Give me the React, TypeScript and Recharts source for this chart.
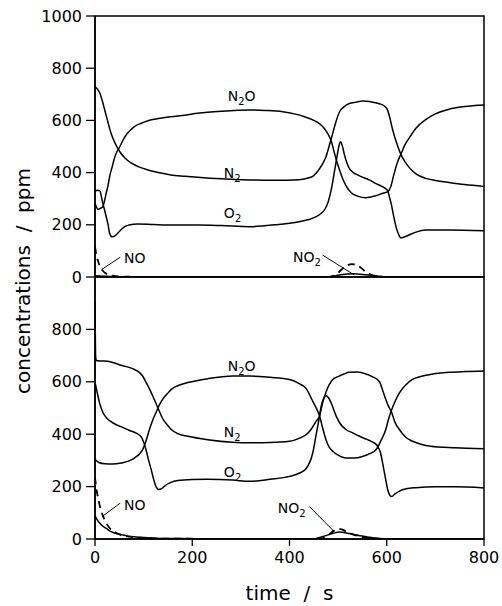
import React from 'react';
import { LineChart, Line, XAxis, YAxis, ReferenceArea, ReferenceDot, ReferenceLine } from 'recharts';

type P = [number, number];

// ---------- top panel series: [time s, ppm] ----------
const TOP_N2: P[] = [
  [0, 729], [5, 720], [10, 704], [15, 675], [20, 640], [26, 598], [33, 551], [42, 510], [51, 480], [62, 455],
  [75, 436], [90, 422], [109, 410], [130, 400], [156, 391], [185, 386], [211, 382], [260, 376], [318, 372],
  [370, 371], [420, 373], [440, 380], [448, 386], [460, 410], [470, 440], [475, 461], [482, 505], [489, 551],
  [496, 598], [503, 633], [512, 652], [523, 665], [537, 670], [550, 674], [565, 672], [585, 664], [595, 655],
  [602, 638], [607, 605], [612, 565], [620, 515], [629, 470], [637, 443], [646, 420], [660, 395], [680, 378],
  [700, 370], [728, 362], [760, 354], [800, 347],
];
const TOP_N2O: P[] = [
  [0, 282], [3, 268], [6, 259], [10, 262], [16, 269], [20, 295], [23, 321], [27, 352], [30, 384], [35, 420],
  [40, 455], [45, 480], [51, 499], [57, 522], [64, 544], [72, 561], [81, 576], [95, 589], [109, 599], [130, 607],
  [156, 614], [185, 620], [211, 627], [260, 635], [318, 640], [350, 638], [386, 633], [410, 625], [434, 612],
  [450, 600], [462, 587], [472, 568], [480, 545], [486, 520], [492, 478], [498, 438], [503, 410], [509, 378],
  [516, 350], [527, 323], [540, 310], [557, 304], [575, 310], [590, 320], [602, 327], [608, 345], [615, 395],
  [622, 440], [629, 470], [637, 505], [646, 532], [660, 570], [680, 603], [700, 625], [728, 643], [760, 653],
  [800, 659],
];
const TOP_O2: P[] = [
  [0, 327], [5, 332], [10, 330], [13, 310], [16, 282], [20, 255], [23, 231], [27, 200], [30, 168], [35, 154],
  [41, 158], [47, 168], [54, 182], [61, 193], [70, 199], [88, 203], [120, 201], [156, 199], [211, 199],
  [260, 197], [318, 193], [370, 200], [420, 212], [440, 220], [455, 231], [466, 245], [472, 257], [480, 290],
  [487, 345], [493, 410], [498, 465], [502, 505], [505, 518], [509, 500], [513, 468], [518, 438], [523, 416],
  [530, 402], [540, 391], [552, 381], [564, 372], [578, 358], [591, 346], [602, 331], [605, 310], [609, 282],
  [614, 235], [619, 193], [624, 165], [629, 150], [636, 153], [646, 161], [660, 172], [680, 180], [728, 180],
  [800, 177],
];
const TOP_NO: P[] = [
  [0, 116], [3, 84], [6, 62], [9, 46], [12, 34], [16, 24], [21, 15], [27, 9], [35, 5], [47, 2], [70, 1],
  [100, 0], [480, 0], [490, 4], [498, 12], [505, 25], [516, 42], [528, 49], [538, 46], [548, 34], [555, 22],
  [562, 13], [570, 7], [580, 3], [595, 0], [800, 0],
];
const TOP_NO2: P[] = [
  [0, 5], [20, 3], [50, 1], [100, 0], [480, 0], [495, 5], [510, 10], [530, 12], [550, 10], [570, 6],
  [590, 2], [610, 0], [800, 0],
];

// ---------- bottom panel series ----------
const BOT_N2: P[] = [
  [0, 905], [1.5, 690], [4, 680], [20, 679], [40, 672], [54, 663], [70, 655], [81, 647], [90, 638], [98, 622],
  [105, 598], [112, 573], [119, 545], [126, 515], [133, 485], [139, 460], [148, 437], [157, 418], [170, 402],
  [191, 392], [232, 379], [283, 369], [318, 367], [360, 368], [400, 373], [421, 385], [434, 398], [445, 420],
  [455, 450], [462, 470], [468, 520], [475, 560], [482, 590], [489, 609], [500, 620], [512, 630], [523, 636],
  [540, 637], [557, 630], [570, 620], [585, 600], [592, 565], [598, 533], [604, 505], [609, 488], [617, 445],
  [626, 418], [638, 390], [653, 373], [670, 362], [690, 354], [740, 348], [800, 344],
];
const BOT_N2O: P[] = [
  [0, 303], [8, 292], [20, 287], [37, 286], [54, 290], [70, 298], [81, 309], [90, 322], [98, 341], [105, 375],
  [112, 418], [119, 455], [126, 485], [133, 514], [139, 533], [148, 553], [157, 571], [170, 585], [191, 597],
  [232, 612], [283, 622], [318, 622], [360, 617], [400, 609], [421, 592], [434, 575], [448, 525], [455, 500],
  [462, 469], [468, 425], [475, 379], [482, 350], [489, 335], [500, 320], [516, 309], [533, 309], [550, 315],
  [564, 325], [578, 341], [588, 375], [598, 418], [604, 460], [609, 488], [617, 525], [626, 558], [640, 590],
  [653, 609], [670, 620], [690, 628], [728, 636], [760, 639], [800, 641],
];
const BOT_O2: P[] = [
  [0, 600], [5, 555], [10, 515], [16, 484], [24, 462], [33, 448], [45, 435], [58, 425], [70, 415], [85, 404],
  [95, 390], [100, 370], [105, 340], [110, 302], [116, 262], [121, 225], [126, 198], [131, 189], [137, 192],
  [145, 205], [155, 215], [170, 223], [200, 227], [232, 228], [283, 225], [318, 220], [360, 228], [400, 239],
  [421, 252], [434, 268], [448, 330], [455, 400], [460, 450], [465, 505], [470, 535], [475, 547], [480, 540],
  [486, 518], [496, 469], [505, 438], [516, 418], [530, 405], [544, 392], [558, 381], [571, 370], [581, 355],
  [587, 330], [592, 285], [597, 235], [602, 188], [607, 165], [610, 162], [617, 172], [626, 183], [640, 192],
  [660, 196], [700, 199], [740, 199], [800, 195],
];
const BOT_NO: P[] = [
  [0, 235], [3, 190], [6, 160], [11, 118], [16, 90], [20, 73], [26, 52], [33, 36], [43, 24], [54, 15], [70, 9],
  [88, 5], [130, 2], [200, 1], [300, 0], [460, 0], [470, 4], [480, 15], [490, 30], [497, 36], [505, 38],
  [513, 32], [520, 25], [530, 18], [540, 12], [550, 7], [560, 4], [580, 1], [600, 0], [800, 0],
];
const BOT_NO2: P[] = [
  [0, 88], [5, 72], [10, 60], [13, 54], [20, 44], [25, 38], [33, 28], [42, 22], [50, 18], [60, 14], [68, 11],
  [85, 8], [100, 6], [123, 3], [160, 2], [200, 1], [300, 0], [450, 0], [462, 6], [475, 13], [490, 22],
  [503, 27], [515, 24], [530, 18], [545, 12], [560, 8], [575, 4], [595, 1], [620, 0], [800, 0],
];

// ---------- axes ----------
const X_TICKS = [0, 200, 400, 600, 800];
const TOP_Y_TICKS = [0, 200, 400, 600, 800, 1000];
const BOT_Y_TICKS = [0, 200, 400, 600, 800];

// ---------- curve labels: [text, time at text start, ppm at baseline] ----------
type Lab = [string, number, number];
const TOP_LABELS: Lab[] = [
  ['N2O', 273, 674], ['N2', 265, 381], ['O2', 265, 226], ['NO', 59.5, 54], ['NO2', 407, 59],
];
const BOT_LABELS: Lab[] = [
  ['N2O', 273, 640], ['N2', 265, 391], ['O2', 265, 238], ['NO', 59.5, 111], ['NO2', 376, 100],
];
// leader lines: [t1, v1, t2, v2]
const TOP_LEADERS: [number, number, number, number][] = [
  [52, 76, 14, 29], [468, 84, 533, 8],
];
const BOT_LEADERS: [number, number, number, number][] = [
  [52, 137, 14, 85], [441, 124, 492, 28],
];

const toPts = (a: P[]) => a.map(([t, v]) => ({ t, v }));
const FONT = 'DejaVu Sans';

function ChemLabel(props: any) {
  const vb = props.viewBox || {};
  const x = (vb.x ?? 0) + (vb.width ?? 0) / 2;
  const y = (vb.y ?? 0) + (vb.height ?? 0) / 2;
  const text: string = props.text;
  const parts: React.ReactNode[] = [];
  let prevSub = false;
  text.split('').forEach((ch, i) => {
    const sub = /[0-9]/.test(ch);
    let dy = 0;
    if (sub && !prevSub) dy = 4;
    if (!sub && prevSub) dy = -4;
    parts.push(
      <tspan key={i} dy={dy} fontSize={sub ? 10 : 14}>{ch}</tspan>
    );
    prevSub = sub;
  });
  return (
    <text x={x} y={y} fontFamily={FONT} fontSize={14} fill="#000" textAnchor="start">
      {parts}
    </text>
  );
}

function YLabel() {
  return (
    <text
      x={30}
      y={281}
      transform="rotate(-90, 30, 281)"
      textAnchor="middle"
      fontFamily={FONT}
      fontSize={20}
      fill="#000"
    >
      {'concentrations\u00a0\u00a0/\u00a0\u00a0ppm'}
    </text>
  );
}

const lineCommon = {
  type: 'monotone' as const,
  dataKey: 'v',
  dot: false,
  activeDot: false,
  stroke: '#000',
  isAnimationActive: false,
};

function renderSeries(n2: P[], n2o: P[], o2: P[], no: P[], no2: P[], prefix: string) {
  return [
    <Line key={prefix + 'n2'} {...lineCommon} data={toPts(n2)} strokeWidth={1.5} />,
    <Line key={prefix + 'n2o'} {...lineCommon} data={toPts(n2o)} strokeWidth={1.5} />,
    <Line key={prefix + 'o2'} {...lineCommon} data={toPts(o2)} strokeWidth={1.5} />,
    <Line key={prefix + 'no2'} {...lineCommon} data={toPts(no2)} strokeWidth={1.5} />,
    <Line key={prefix + 'no'} {...lineCommon} data={toPts(no)} strokeWidth={1.8} strokeDasharray="7 5" />,
  ];
}

function renderLabels(labels: Lab[], leaders: [number, number, number, number][], prefix: string) {
  const out: React.ReactNode[] = [];
  labels.forEach(([txt, t, v], i) => {
    out.push(
      <ReferenceDot
        key={prefix + 'lab' + i}
        x={t}
        y={v}
        r={0}
        fill="none"
        stroke="none"
        label={(p: any) => <ChemLabel {...p} text={txt} />}
      />
    );
  });
  leaders.forEach(([t1, v1, t2, v2], i) => {
    out.push(
      <ReferenceLine
        key={prefix + 'ld' + i}
        segment={[{ x: t1, y: v1 }, { x: t2, y: v2 }]}
        stroke="#000"
        strokeWidth={1}
      />
    );
  });
  return out;
}

const tickStyle = { fontFamily: FONT, fontSize: 16, fill: '#000' };

export default function App() {
  return (
    <div style={{ position: 'absolute', left: 0, top: 0, width: 502, height: 606, background: '#fff' }}>
      <div style={{ position: 'absolute', left: 0, top: 0 }}>
        <LineChart width={502} height={606} margin={{ top: 277, right: 18, bottom: 0, left: 0 }}>
          <XAxis
            dataKey="t"
            type="number"
            domain={[0, 800]}
            ticks={X_TICKS}
            interval={0}
            allowDataOverflow
            height={67}
            tickSize={7}
            tickMargin={6}
            tick={tickStyle}
            axisLine={{ stroke: '#000', strokeWidth: 1.5 }}
            tickLine={{ stroke: '#000', strokeWidth: 1.3 }}
            label={{
              value: 'time\u00a0\u00a0/\u00a0\u00a0s',
              position: 'insideBottom',
              offset: 6,
              fill: '#000',
              fontSize: 20,
              fontFamily: FONT,
            }}
          />
          <YAxis
            type="number"
            domain={[0, 1000]}
            ticks={BOT_Y_TICKS}
            interval={0}
            allowDataOverflow
            width={95}
            tickSize={9}
            tickMargin={4}
            tick={tickStyle}
            axisLine={{ stroke: '#000', strokeWidth: 1.5 }}
            tickLine={{ stroke: '#000', strokeWidth: 1.3 }}
            label={{ content: () => <YLabel /> }}
          />
          <ReferenceArea x1={0} x2={800} y1={0} y2={1000} fill="none" stroke="#000" strokeWidth={1.5} />
          {renderSeries(BOT_N2, BOT_N2O, BOT_O2, BOT_NO, BOT_NO2, 'b')}
          {renderLabels(BOT_LABELS, BOT_LEADERS, 'b')}
        </LineChart>
      </div>
      <div style={{ position: 'absolute', left: 0, top: 0 }}>
        <LineChart width={502} height={290} margin={{ top: 16, right: 18, bottom: 13, left: 0 }}>
          <XAxis dataKey="t" type="number" domain={[0, 800]} allowDataOverflow hide />
          <YAxis
            type="number"
            domain={[0, 1000]}
            ticks={TOP_Y_TICKS}
            interval={0}
            allowDataOverflow
            width={95}
            tickSize={9}
            tickMargin={4}
            tick={tickStyle}
            axisLine={{ stroke: '#000', strokeWidth: 1.5 }}
            tickLine={{ stroke: '#000', strokeWidth: 1.3 }}
          />
          <ReferenceArea x1={0} x2={800} y1={0} y2={1000} fill="none" stroke="#000" strokeWidth={1.5} />
          {renderSeries(TOP_N2, TOP_N2O, TOP_O2, TOP_NO, TOP_NO2, 't')}
          {renderLabels(TOP_LABELS, TOP_LEADERS, 't')}
        </LineChart>
      </div>
    </div>
  );
}
